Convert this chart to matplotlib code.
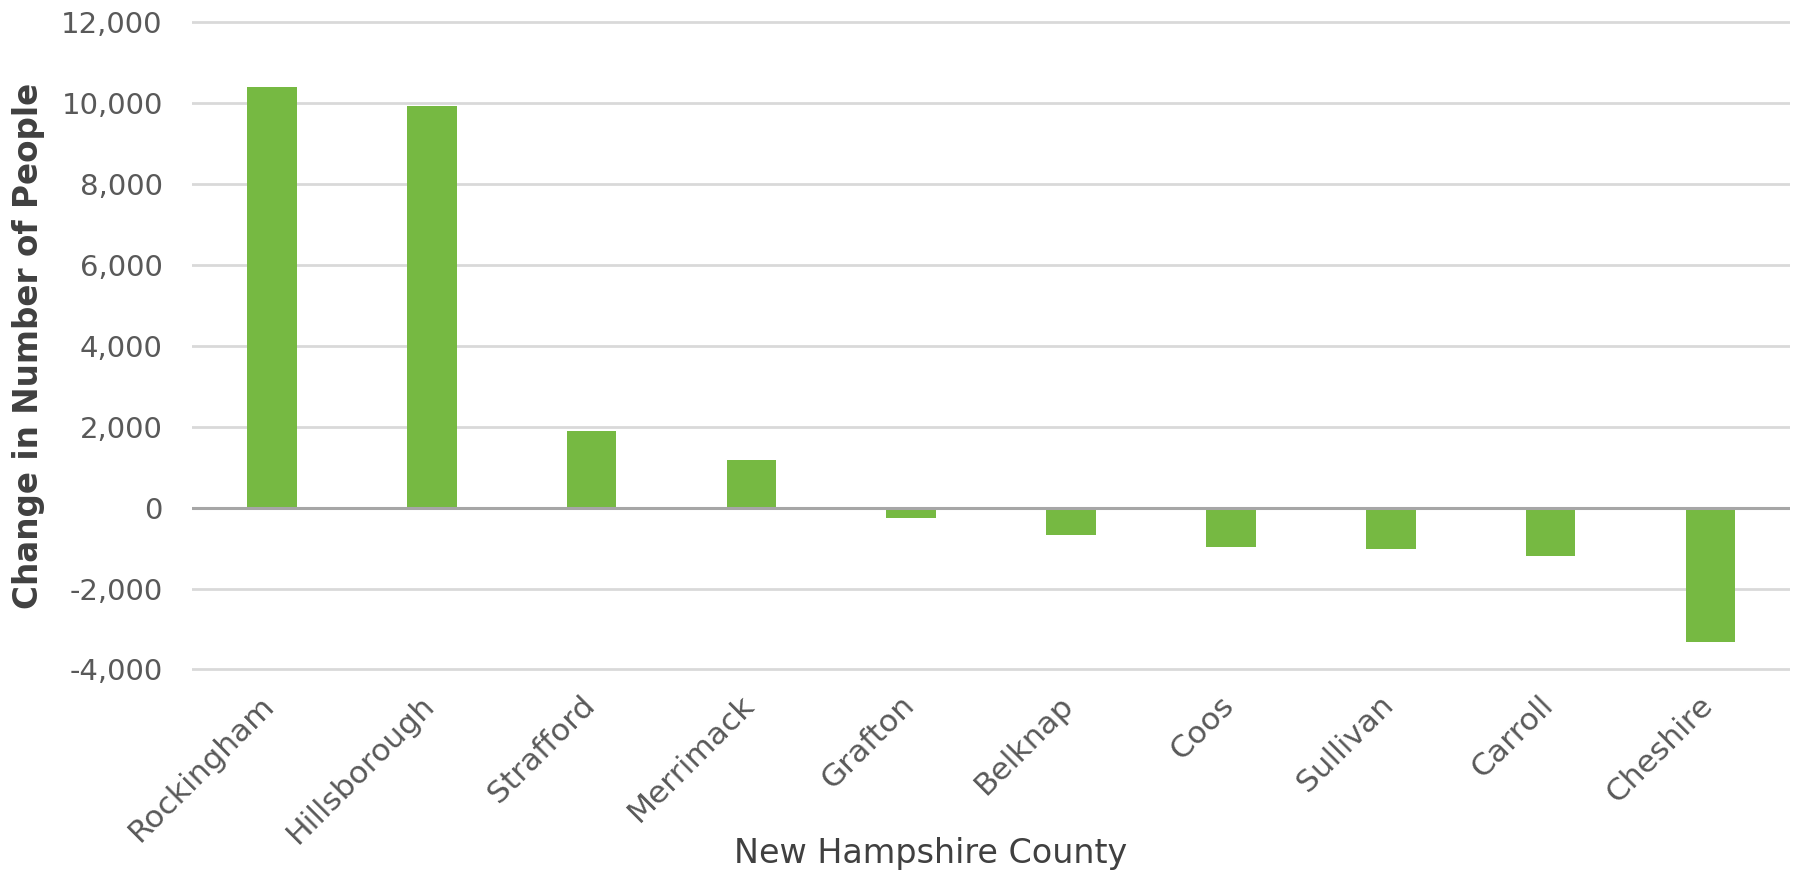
import matplotlib
matplotlib.use("Agg")
import matplotlib.pyplot as plt
from matplotlib.ticker import FuncFormatter
from matplotlib.transforms import ScaledTranslation

counties = ["Rockingham", "Hillsborough", "Strafford", "Merrimack", "Grafton",
            "Belknap", "Coos", "Sullivan", "Carroll", "Cheshire"]
change = [10380, 9920, 1890, 1180, -260, -680, -980, -1020, -1200, -3310]
y_ticks = [-4000, -2000, 0, 2000, 4000, 6000, 8000, 10000, 12000]

bar_color = "#76b942"
tick_color = "#595959"

plt.rcParams["font.family"] = ["DejaVu Sans"]

fig = plt.figure(figsize=(17.94, 8.72), dpi=100)
ax = fig.add_axes([0.107, 0.2276, 0.891, 0.7522])

x = list(range(len(counties)))
ax.bar(x, change, width=0.31, color=bar_color, zorder=3)

ax.set_xlim(-0.5, len(counties) - 0.5)
ax.set_ylim(-4100, 12100)
ax.set_yticks(y_ticks)
ax.yaxis.set_major_formatter(FuncFormatter(lambda v, p: f"{int(v):,}"))
ax.grid(axis="y", color="#d9d9d9", linewidth=2, zorder=0)
ax.axhline(0, color="#a6a6a6", linewidth=2.2, zorder=4)

for s in ax.spines.values():
    s.set_visible(False)

ax.tick_params(axis="y", length=0, pad=21, labelsize=21, labelcolor=tick_color)
ax.tick_params(axis="x", length=0, pad=12, labelsize=22.5, labelcolor=tick_color)
ax.set_xticks(x)
ax.set_xticklabels(counties, rotation=45, ha="right", rotation_mode="anchor")
shift = ScaledTranslation(-0.12, 0, fig.dpi_scale_trans)
for lbl in ax.get_xticklabels():
    lbl.set_transform(lbl.get_transform() + shift)

ax.set_ylabel("Change in Number of People", fontsize=23.5, fontweight="bold",
              color="#404040", va="center")
ax.yaxis.set_label_coords(-0.102, 0.5)
ax.set_xlabel("New Hampshire County", fontsize=24, color="#404040", va="center")
ax.xaxis.set_label_coords(0.462, -0.274)

fig.savefig("out.png", dpi=100, facecolor="white")
